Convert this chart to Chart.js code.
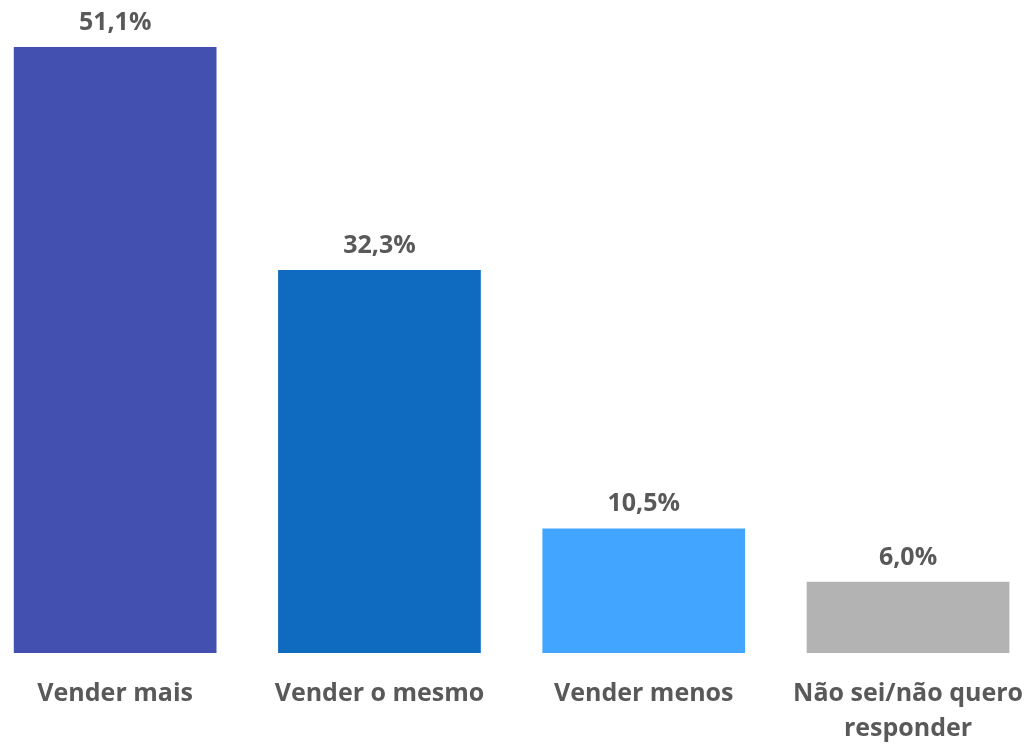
<!DOCTYPE html>
<html>
<head>
<meta charset="utf-8">
<script src="https://cdn.jsdelivr.net/npm/chart.js@4"></script>
<style>
  html, body { margin: 0; padding: 0; background: #ffffff; overflow: hidden; width: 1032px; height: 747px; }
  #wrap { position: absolute; left: -17px; top: 0; width: 1063px; height: 747px; }
</style>
</head>
<body>
<div id="wrap"><canvas id="c"></canvas></div>
<script>
const categories = [["Vender mais"], ["Vender o mesmo"], ["Vender menos"], ["Não sei/não quero", "responder"]];
const values = [51.1, 32.3, 10.5, 6.0];
const valueLabels = ["51,1%", "32,3%", "10,5%", "6,0%"];
const barColors = ["#4350AF", "#0F6BC0", "#42A5FF", "#B3B3B3"];

const textColor = "#595959";
const fontFamily = "'Open Sans', 'Noto Sans', sans-serif";

const valueLabelPlugin = {
  id: "valueLabels",
  afterDatasetsDraw(chart) {
    const ctx = chart.ctx;
    const meta = chart.getDatasetMeta(0);
    ctx.save();
    ctx.font = "bold 25px " + fontFamily;
    ctx.fillStyle = textColor;
    ctx.textAlign = "center";
    ctx.textBaseline = "alphabetic";
    meta.data.forEach((bar, i) => {
      ctx.fillText(valueLabels[i], bar.x, bar.y - 17);
    });
    ctx.restore();
  }
};

new Chart(document.getElementById("c"), {
  type: "bar",
  data: {
    labels: categories,
    datasets: [{
      data: values,
      backgroundColor: barColors,
      borderWidth: 0,
      barPercentage: 1,
      categoryPercentage: 0.767
    }]
  },
  options: {
    responsive: true,
    maintainAspectRatio: false,
    animation: false,
    layout: { padding: { top: 47, left: 0, right: 0, bottom: 0 } },
    plugins: { legend: { display: false }, tooltip: { enabled: false } },
    scales: {
      x: {
        grid: { display: false, drawTicks: false },
        border: { display: false },
        ticks: {
          color: textColor,
          font: { family: fontFamily, size: 25, weight: "bold", lineHeight: 1.4 },
          maxRotation: 0,
          autoSkip: false,
          padding: 23
        },
        afterFit(scale) { scale.height = 94; }
      },
      y: {
        display: false,
        min: 0,
        max: 51.1
      }
    }
  },
  plugins: [valueLabelPlugin]
});
</script>
</body>
</html>
